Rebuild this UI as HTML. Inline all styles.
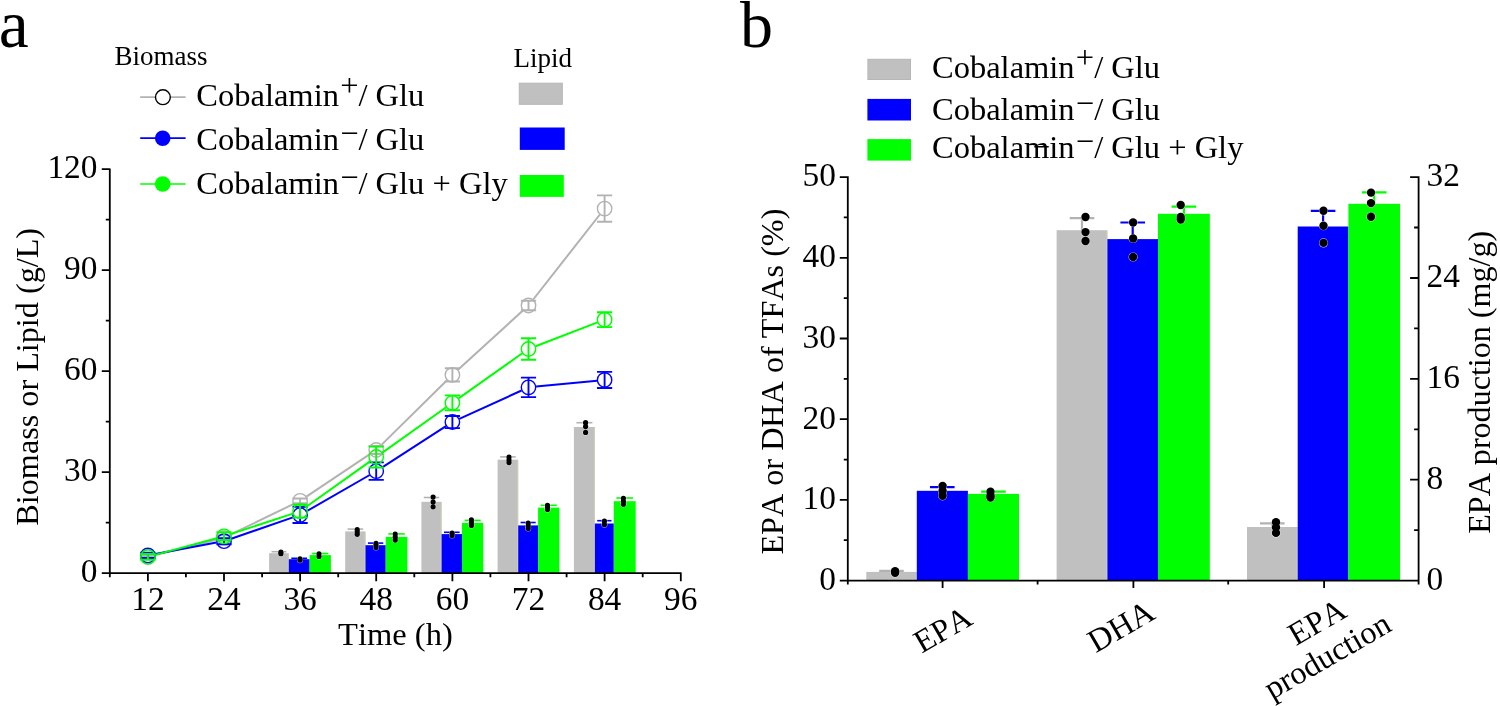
<!DOCTYPE html>
<html><head><meta charset="utf-8"><style>
html,body{margin:0;padding:0;background:#fff;}
svg{display:block;will-change:transform;}
text{font-family:"Liberation Serif", serif;fill:#000;font-kerning:none;}
</style></head><body>
<svg width="1500" height="706" viewBox="0 0 1500 706">
<rect width="1500" height="706" fill="#fff"/>
<rect x="269.1" y="553.2" width="19.7" height="20.0" fill="#c0c0c0"/>
<rect x="287.8" y="554.2" width="1" height="19.0" fill="#d0d0b4"/>
<line x1="271.5" y1="551.7" x2="286.4" y2="551.7" stroke="#b2b2b2" stroke-width="1.6"/>
<line x1="279.0" y1="551.7" x2="279.0" y2="553.2" stroke="#b2b2b2" stroke-width="1.6"/>
<circle cx="280.9" cy="552.0" r="3.0" fill="#fff" opacity="0.8"/>
<circle cx="280.9" cy="553.7" r="3.0" fill="#fff" opacity="0.8"/>
<circle cx="280.9" cy="552.0" r="2.6" fill="#000"/>
<circle cx="280.9" cy="553.7" r="2.6" fill="#000"/>
<rect x="288.8" y="559.2" width="20.8" height="14.0" fill="#0000ff"/>
<line x1="291.3" y1="558.3" x2="307.1" y2="558.3" stroke="#0000ff" stroke-width="1.6"/>
<line x1="299.2" y1="558.3" x2="299.2" y2="559.2" stroke="#0000ff" stroke-width="1.6"/>
<circle cx="300.0" cy="558.8" r="3.0" fill="#fff" opacity="0.8"/>
<circle cx="300.0" cy="560.2" r="3.0" fill="#fff" opacity="0.8"/>
<circle cx="300.0" cy="558.8" r="2.6" fill="#000"/>
<circle cx="300.0" cy="560.2" r="2.6" fill="#000"/>
<rect x="309.6" y="555.1" width="21.3" height="18.1" fill="#00ff00"/>
<line x1="312.2" y1="553.5" x2="328.3" y2="553.5" stroke="#00ff00" stroke-width="1.6"/>
<line x1="320.2" y1="553.5" x2="320.2" y2="555.1" stroke="#00ff00" stroke-width="1.6"/>
<circle cx="319.0" cy="553.8" r="3.0" fill="#fff" opacity="0.8"/>
<circle cx="319.0" cy="556.5" r="3.0" fill="#fff" opacity="0.8"/>
<circle cx="319.0" cy="553.8" r="2.6" fill="#000"/>
<circle cx="319.0" cy="556.5" r="2.6" fill="#000"/>
<rect x="345.2" y="531.4" width="20.3" height="41.8" fill="#c0c0c0"/>
<rect x="364.5" y="532.4" width="1" height="40.8" fill="#d0d0b4"/>
<line x1="347.6" y1="529.1" x2="363.1" y2="529.1" stroke="#b2b2b2" stroke-width="1.6"/>
<line x1="355.4" y1="529.1" x2="355.4" y2="531.4" stroke="#b2b2b2" stroke-width="1.6"/>
<circle cx="357.2" cy="529.5" r="3.0" fill="#fff" opacity="0.8"/>
<circle cx="357.2" cy="532.0" r="3.0" fill="#fff" opacity="0.8"/>
<circle cx="357.2" cy="534.3" r="3.0" fill="#fff" opacity="0.8"/>
<circle cx="357.2" cy="529.5" r="2.6" fill="#000"/>
<circle cx="357.2" cy="532.0" r="2.6" fill="#000"/>
<circle cx="357.2" cy="534.3" r="2.6" fill="#000"/>
<rect x="365.5" y="545.2" width="20.2" height="28.0" fill="#0000ff"/>
<line x1="367.9" y1="543.1" x2="383.3" y2="543.1" stroke="#0000ff" stroke-width="1.6"/>
<line x1="375.6" y1="543.1" x2="375.6" y2="545.2" stroke="#0000ff" stroke-width="1.6"/>
<circle cx="376.0" cy="543.3" r="3.0" fill="#fff" opacity="0.8"/>
<circle cx="376.0" cy="545.5" r="3.0" fill="#fff" opacity="0.8"/>
<circle cx="376.0" cy="547.6" r="3.0" fill="#fff" opacity="0.8"/>
<circle cx="376.0" cy="543.3" r="2.6" fill="#000"/>
<circle cx="376.0" cy="545.5" r="2.6" fill="#000"/>
<circle cx="376.0" cy="547.6" r="2.6" fill="#000"/>
<rect x="385.7" y="536.9" width="21.7" height="36.3" fill="#00ff00"/>
<line x1="388.3" y1="533.9" x2="404.8" y2="533.9" stroke="#00ff00" stroke-width="1.6"/>
<line x1="396.5" y1="533.9" x2="396.5" y2="536.9" stroke="#00ff00" stroke-width="1.6"/>
<circle cx="395.2" cy="534.1" r="3.0" fill="#fff" opacity="0.8"/>
<circle cx="395.2" cy="537.2" r="3.0" fill="#fff" opacity="0.8"/>
<circle cx="395.2" cy="540.1" r="3.0" fill="#fff" opacity="0.8"/>
<circle cx="395.2" cy="534.1" r="2.6" fill="#000"/>
<circle cx="395.2" cy="537.2" r="2.6" fill="#000"/>
<circle cx="395.2" cy="540.1" r="2.6" fill="#000"/>
<rect x="421.4" y="501.8" width="20.2" height="71.4" fill="#c0c0c0"/>
<rect x="440.6" y="502.8" width="1" height="70.4" fill="#d0d0b4"/>
<line x1="423.8" y1="497.5" x2="439.2" y2="497.5" stroke="#b2b2b2" stroke-width="1.6"/>
<line x1="431.5" y1="497.5" x2="431.5" y2="501.8" stroke="#b2b2b2" stroke-width="1.6"/>
<circle cx="433.1" cy="497.1" r="3.0" fill="#fff" opacity="0.8"/>
<circle cx="433.1" cy="502.1" r="3.0" fill="#fff" opacity="0.8"/>
<circle cx="433.1" cy="506.8" r="3.0" fill="#fff" opacity="0.8"/>
<circle cx="433.1" cy="497.1" r="2.6" fill="#000"/>
<circle cx="433.1" cy="502.1" r="2.6" fill="#000"/>
<circle cx="433.1" cy="506.8" r="2.6" fill="#000"/>
<rect x="441.6" y="534.1" width="20.4" height="39.1" fill="#0000ff"/>
<line x1="444.0" y1="532.3" x2="459.6" y2="532.3" stroke="#0000ff" stroke-width="1.6"/>
<line x1="451.8" y1="532.3" x2="451.8" y2="534.1" stroke="#0000ff" stroke-width="1.6"/>
<circle cx="452.1" cy="533.2" r="3.0" fill="#fff" opacity="0.8"/>
<circle cx="452.1" cy="535.6" r="3.0" fill="#fff" opacity="0.8"/>
<circle cx="452.1" cy="533.2" r="2.6" fill="#000"/>
<circle cx="452.1" cy="535.6" r="2.6" fill="#000"/>
<rect x="462.0" y="522.9" width="21.3" height="50.3" fill="#00ff00"/>
<line x1="464.6" y1="520.4" x2="480.7" y2="520.4" stroke="#00ff00" stroke-width="1.6"/>
<line x1="472.6" y1="520.4" x2="472.6" y2="522.9" stroke="#00ff00" stroke-width="1.6"/>
<circle cx="471.4" cy="519.8" r="3.0" fill="#fff" opacity="0.8"/>
<circle cx="471.4" cy="522.5" r="3.0" fill="#fff" opacity="0.8"/>
<circle cx="471.4" cy="525.4" r="3.0" fill="#fff" opacity="0.8"/>
<circle cx="471.4" cy="519.8" r="2.6" fill="#000"/>
<circle cx="471.4" cy="522.5" r="2.6" fill="#000"/>
<circle cx="471.4" cy="525.4" r="2.6" fill="#000"/>
<rect x="497.6" y="459.7" width="20.6" height="113.5" fill="#c0c0c0"/>
<rect x="517.2" y="460.7" width="1" height="112.5" fill="#d0d0b4"/>
<line x1="500.1" y1="456.9" x2="515.7" y2="456.9" stroke="#b2b2b2" stroke-width="1.6"/>
<line x1="507.9" y1="456.9" x2="507.9" y2="459.7" stroke="#b2b2b2" stroke-width="1.6"/>
<circle cx="509.0" cy="457.1" r="3.0" fill="#fff" opacity="0.8"/>
<circle cx="509.0" cy="460.0" r="3.0" fill="#fff" opacity="0.8"/>
<circle cx="509.0" cy="462.6" r="3.0" fill="#fff" opacity="0.8"/>
<circle cx="509.0" cy="457.1" r="2.6" fill="#000"/>
<circle cx="509.0" cy="460.0" r="2.6" fill="#000"/>
<circle cx="509.0" cy="462.6" r="2.6" fill="#000"/>
<rect x="518.2" y="525.4" width="19.9" height="47.8" fill="#0000ff"/>
<line x1="520.6" y1="522.5" x2="535.7" y2="522.5" stroke="#0000ff" stroke-width="1.6"/>
<line x1="528.2" y1="522.5" x2="528.2" y2="525.4" stroke="#0000ff" stroke-width="1.6"/>
<circle cx="528.2" cy="523.1" r="3.0" fill="#fff" opacity="0.8"/>
<circle cx="528.2" cy="526.0" r="3.0" fill="#fff" opacity="0.8"/>
<circle cx="528.2" cy="528.6" r="3.0" fill="#fff" opacity="0.8"/>
<circle cx="528.2" cy="523.1" r="2.6" fill="#000"/>
<circle cx="528.2" cy="526.0" r="2.6" fill="#000"/>
<circle cx="528.2" cy="528.6" r="2.6" fill="#000"/>
<rect x="538.1" y="507.6" width="21.3" height="65.6" fill="#00ff00"/>
<line x1="540.7" y1="505.3" x2="556.8" y2="505.3" stroke="#00ff00" stroke-width="1.6"/>
<line x1="548.8" y1="505.3" x2="548.8" y2="507.6" stroke="#00ff00" stroke-width="1.6"/>
<circle cx="547.5" cy="505.3" r="3.0" fill="#fff" opacity="0.8"/>
<circle cx="547.5" cy="507.5" r="3.0" fill="#fff" opacity="0.8"/>
<circle cx="547.5" cy="509.5" r="3.0" fill="#fff" opacity="0.8"/>
<circle cx="547.5" cy="505.3" r="2.6" fill="#000"/>
<circle cx="547.5" cy="507.5" r="2.6" fill="#000"/>
<circle cx="547.5" cy="509.5" r="2.6" fill="#000"/>
<rect x="573.9" y="427.0" width="21.0" height="146.2" fill="#c0c0c0"/>
<rect x="593.9" y="428.0" width="1" height="145.2" fill="#d0d0b4"/>
<line x1="576.4" y1="422.7" x2="592.4" y2="422.7" stroke="#b2b2b2" stroke-width="1.6"/>
<line x1="584.4" y1="422.7" x2="584.4" y2="427.0" stroke="#b2b2b2" stroke-width="1.6"/>
<circle cx="585.6" cy="422.7" r="3.0" fill="#fff" opacity="0.8"/>
<circle cx="585.6" cy="426.6" r="3.0" fill="#fff" opacity="0.8"/>
<circle cx="585.6" cy="432.4" r="3.0" fill="#fff" opacity="0.8"/>
<circle cx="585.6" cy="422.7" r="2.6" fill="#000"/>
<circle cx="585.6" cy="426.6" r="2.6" fill="#000"/>
<circle cx="585.6" cy="432.4" r="2.6" fill="#000"/>
<rect x="594.9" y="523.5" width="18.9" height="49.7" fill="#0000ff"/>
<line x1="597.2" y1="520.7" x2="611.5" y2="520.7" stroke="#0000ff" stroke-width="1.6"/>
<line x1="604.3" y1="520.7" x2="604.3" y2="523.5" stroke="#0000ff" stroke-width="1.6"/>
<circle cx="604.4" cy="521.2" r="3.0" fill="#fff" opacity="0.8"/>
<circle cx="604.4" cy="524.7" r="3.0" fill="#fff" opacity="0.8"/>
<circle cx="604.4" cy="521.2" r="2.6" fill="#000"/>
<circle cx="604.4" cy="524.7" r="2.6" fill="#000"/>
<rect x="613.8" y="501.2" width="21.9" height="72.0" fill="#00ff00"/>
<line x1="616.4" y1="498.0" x2="633.1" y2="498.0" stroke="#00ff00" stroke-width="1.6"/>
<line x1="624.8" y1="498.0" x2="624.8" y2="501.2" stroke="#00ff00" stroke-width="1.6"/>
<circle cx="623.4" cy="498.3" r="3.0" fill="#fff" opacity="0.8"/>
<circle cx="623.4" cy="501.5" r="3.0" fill="#fff" opacity="0.8"/>
<circle cx="623.4" cy="504.3" r="3.0" fill="#fff" opacity="0.8"/>
<circle cx="623.4" cy="498.3" r="2.6" fill="#000"/>
<circle cx="623.4" cy="501.5" r="2.6" fill="#000"/>
<circle cx="623.4" cy="504.3" r="2.6" fill="#000"/>
<path d="M155.2 555.0L216.6 539.7M230.8 534.5L293.3 504.1M306.4 496.6L369.9 454.2M381.7 444.6L447.0 380.2M458.0 369.8L522.9 310.6M533.2 299.5L599.9 214.5" fill="none" stroke="#b2b2b2" stroke-width="2"/>
<circle cx="147.9" cy="556.8" r="7.2" fill="none" stroke="#b2b2b2" stroke-width="1.4"/>
<path d="M140.3 556.0H155.5M147.9 556.0V557.6M140.3 557.6H155.5" stroke="#b2b2b2" stroke-width="1.9" fill="none"/>
<circle cx="224.0" cy="537.8" r="7.2" fill="none" stroke="#b2b2b2" stroke-width="1.4"/>
<path d="M216.4 535.2H231.6M224.0 535.2V540.5M216.4 540.5H231.6" stroke="#b2b2b2" stroke-width="1.9" fill="none"/>
<circle cx="300.1" cy="500.8" r="7.2" fill="none" stroke="#b2b2b2" stroke-width="1.4"/>
<path d="M292.5 498.5H307.7M300.1 498.5V503.2M292.5 503.2H307.7" stroke="#b2b2b2" stroke-width="1.9" fill="none"/>
<circle cx="376.2" cy="450.0" r="7.2" fill="none" stroke="#b2b2b2" stroke-width="1.4"/>
<path d="M368.6 445.9H383.8M376.2 445.9V454.0M368.6 454.0H383.8" stroke="#b2b2b2" stroke-width="1.9" fill="none"/>
<circle cx="452.4" cy="374.9" r="7.2" fill="none" stroke="#b2b2b2" stroke-width="1.4"/>
<path d="M444.8 368.3H460.0M452.4 368.3V381.5M444.8 381.5H460.0" stroke="#b2b2b2" stroke-width="1.9" fill="none"/>
<circle cx="528.5" cy="305.5" r="7.2" fill="none" stroke="#b2b2b2" stroke-width="1.4"/>
<path d="M520.9 300.8H536.1M528.5 300.8V310.2M520.9 310.2H536.1" stroke="#b2b2b2" stroke-width="1.9" fill="none"/>
<circle cx="604.6" cy="208.6" r="7.2" fill="none" stroke="#b2b2b2" stroke-width="1.4"/>
<path d="M597.0 195.4H612.2M604.6 195.4V221.7M597.0 221.7H612.2" stroke="#b2b2b2" stroke-width="1.9" fill="none"/>
<path d="M155.3 554.0L216.5 542.6M231.2 538.7L292.9 517.4M306.7 511.2L369.7 475.0M382.6 467.1L446.0 426.1M459.3 418.9L521.6 390.5M536.1 386.6L597.1 380.7" fill="none" stroke="#0000ff" stroke-width="2"/>
<circle cx="147.9" cy="555.4" r="7.2" fill="none" stroke="#0000ff" stroke-width="1.4"/>
<path d="M140.3 552.7H155.5M147.9 552.7V558.0M140.3 558.0H155.5" stroke="#0000ff" stroke-width="1.9" fill="none"/>
<circle cx="224.0" cy="541.2" r="7.2" fill="none" stroke="#0000ff" stroke-width="1.4"/>
<path d="M216.4 538.2H231.6M224.0 538.2V544.2M216.4 544.2H231.6" stroke="#0000ff" stroke-width="1.9" fill="none"/>
<circle cx="300.1" cy="515.0" r="7.2" fill="none" stroke="#0000ff" stroke-width="1.4"/>
<path d="M292.5 506.9H307.7M300.1 506.9V523.0M292.5 523.0H307.7" stroke="#0000ff" stroke-width="1.9" fill="none"/>
<circle cx="376.2" cy="471.2" r="7.2" fill="none" stroke="#0000ff" stroke-width="1.4"/>
<path d="M368.6 462.4H383.8M376.2 462.4V479.9M368.6 479.9H383.8" stroke="#0000ff" stroke-width="1.9" fill="none"/>
<circle cx="452.4" cy="422.0" r="7.2" fill="none" stroke="#0000ff" stroke-width="1.4"/>
<path d="M444.8 416.0H460.0M452.4 416.0V428.1M444.8 428.1H460.0" stroke="#0000ff" stroke-width="1.9" fill="none"/>
<circle cx="528.5" cy="387.3" r="7.2" fill="none" stroke="#0000ff" stroke-width="1.4"/>
<path d="M520.9 377.6H536.1M528.5 377.6V397.1M520.9 397.1H536.1" stroke="#0000ff" stroke-width="1.9" fill="none"/>
<circle cx="604.6" cy="379.9" r="7.2" fill="none" stroke="#0000ff" stroke-width="1.4"/>
<path d="M597.0 371.9H612.2M604.6 371.9V388.0M597.0 388.0H612.2" stroke="#0000ff" stroke-width="1.9" fill="none"/>
<path d="M155.2 554.9L216.7 538.3M231.2 533.9L292.9 513.6M306.3 506.8L370.1 461.4M382.4 452.6L446.2 407.2M458.6 398.4L522.3 353.3M535.6 346.2L597.5 322.4" fill="none" stroke="#00ff00" stroke-width="2"/>
<circle cx="147.9" cy="556.9" r="7.2" fill="none" stroke="#00ff00" stroke-width="1.4"/>
<path d="M140.3 554.0H155.5M147.9 554.0V559.8M140.3 559.8H155.5" stroke="#00ff00" stroke-width="1.9" fill="none"/>
<circle cx="224.0" cy="536.3" r="7.2" fill="none" stroke="#00ff00" stroke-width="1.4"/>
<path d="M216.4 532.3H231.6M224.0 532.3V540.3M216.4 540.3H231.6" stroke="#00ff00" stroke-width="1.9" fill="none"/>
<circle cx="300.1" cy="511.2" r="7.2" fill="none" stroke="#00ff00" stroke-width="1.4"/>
<path d="M292.5 504.8H307.7M300.1 504.8V517.6M292.5 517.6H307.7" stroke="#00ff00" stroke-width="1.9" fill="none"/>
<circle cx="376.2" cy="457.0" r="7.2" fill="none" stroke="#00ff00" stroke-width="1.4"/>
<path d="M368.6 446.6H383.8M376.2 446.6V467.5M368.6 467.5H383.8" stroke="#00ff00" stroke-width="1.9" fill="none"/>
<circle cx="452.4" cy="402.8" r="7.2" fill="none" stroke="#00ff00" stroke-width="1.4"/>
<path d="M444.8 395.4H460.0M452.4 395.4V410.2M444.8 410.2H460.0" stroke="#00ff00" stroke-width="1.9" fill="none"/>
<circle cx="528.5" cy="349.0" r="7.2" fill="none" stroke="#00ff00" stroke-width="1.4"/>
<path d="M520.9 338.2H536.1M528.5 338.2V359.7M520.9 359.7H536.1" stroke="#00ff00" stroke-width="1.9" fill="none"/>
<circle cx="604.6" cy="319.7" r="7.2" fill="none" stroke="#00ff00" stroke-width="1.4"/>
<path d="M597.0 312.3H612.2M604.6 312.3V327.1M597.0 327.1H612.2" stroke="#00ff00" stroke-width="1.9" fill="none"/>
<path d="M109.8 168.4V577.2M101.8 573.2H681.6M101.8 472.2H109.8M101.8 371.2H109.8M101.8 270.2H109.8M101.8 169.2H109.8M105.8 522.7H109.8M105.8 421.7H109.8M105.8 320.7H109.8M105.8 219.7H109.8M147.9 573.2V581.2M224.0 573.2V581.2M300.1 573.2V581.2M376.2 573.2V581.2M452.4 573.2V581.2M528.5 573.2V581.2M604.6 573.2V581.2M680.8 573.2V581.2M185.9 573.2V577.2M262.1 573.2V577.2M338.2 573.2V577.2M414.3 573.2V577.2M490.4 573.2V577.2M566.6 573.2V577.2M642.7 573.2V577.2" stroke="#000" stroke-width="1.8" fill="none"/>
<text x="97.5" y="582.1" font-size="33.4" text-anchor="end">0</text>
<text x="97.5" y="481.1" font-size="33.4" text-anchor="end">30</text>
<text x="97.5" y="380.1" font-size="33.4" text-anchor="end">60</text>
<text x="97.5" y="279.1" font-size="33.4" text-anchor="end">90</text>
<text x="97.5" y="178.1" font-size="33.4" text-anchor="end">120</text>
<text x="147.9" y="610.4" font-size="33.4" text-anchor="middle">12</text>
<text x="224.0" y="610.4" font-size="33.4" text-anchor="middle">24</text>
<text x="300.1" y="610.4" font-size="33.4" text-anchor="middle">36</text>
<text x="376.2" y="610.4" font-size="33.4" text-anchor="middle">48</text>
<text x="452.4" y="610.4" font-size="33.4" text-anchor="middle">60</text>
<text x="528.5" y="610.4" font-size="33.4" text-anchor="middle">72</text>
<text x="604.6" y="610.4" font-size="33.4" text-anchor="middle">84</text>
<text x="680.8" y="610.4" font-size="33.4" text-anchor="middle">96</text>
<text x="395.4" y="645.2" font-size="32.5" text-anchor="middle">Time (h)</text>
<text transform="translate(37.8 376.8) rotate(-90)" font-size="32.2" text-anchor="middle">Biomass or Lipid (g/L)</text>
<text x="114.5" y="65" font-size="27">Biomass</text>
<text x="513.6" y="67" font-size="27">Lipid</text>
<line x1="140.2" y1="97.2" x2="185.6" y2="97.2" stroke="#b2b2b2" stroke-width="1.7"/>
<circle cx="162.9" cy="97.2" r="7.4" fill="#fff" stroke="#000" stroke-width="1.4"/>
<text x="196.3" y="105.9" font-size="32.5">Cobalamin<tspan dx="1.2" dy="-10.3">+</tspan><tspan dy="10.3">/ Glu</tspan></text>
<line x1="140.2" y1="138.2" x2="185.6" y2="138.2" stroke="#0000ff" stroke-width="1.7"/>
<circle cx="162.7" cy="138.2" r="7.8" fill="#0000ff"/>
<text x="196.3" y="150.1" font-size="32.5">Cobalamin<tspan dx="1.2" dy="-6.3">&#8722;</tspan><tspan dy="6.3">/ Glu</tspan></text>
<line x1="140.2" y1="184.0" x2="185.6" y2="184.0" stroke="#00ff00" stroke-width="1.7"/>
<circle cx="162.7" cy="184.0" r="7.8" fill="#00ff00"/>
<text x="196.3" y="194.3" font-size="32.5">Cobalamin<tspan dx="1.2" dy="-6.3">&#8722;</tspan><tspan dy="6.3">/ Glu + Gly</tspan></text>
<rect x="519.3" y="83.2" width="43" height="21.1" fill="#c0c0c0" stroke="#b6b6b6" stroke-width="1"/>
<rect x="519.8" y="127.5" width="44.9" height="22.4" fill="#0000ff"/>
<rect x="519.8" y="175" width="44" height="21.9" fill="#00ff00"/>
<path d="M298.8 179.9H312.5M1034.3 146.8H1048.7" stroke="#000" stroke-width="1.4"/>
<text x="-1.3" y="46.9" font-size="67.5">a</text>
<rect x="866.3" y="571.9" width="50.5" height="8.7" fill="#c0c0c0"/>
<rect x="915.8" y="572.9" width="1" height="7.7" fill="#d0d0b4"/>
<path d="M879.2 570.9H903.8M891.5 570.9V571.9" stroke="#b2b2b2" stroke-width="2.2" fill="none"/>
<circle cx="895.1" cy="571.2" r="4.6" fill="#fff" opacity="0.8"/>
<circle cx="895.1" cy="572.8" r="4.6" fill="#fff" opacity="0.8"/>
<circle cx="895.1" cy="571.2" r="4.2" fill="#000"/>
<circle cx="895.1" cy="572.8" r="4.2" fill="#000"/>
<rect x="916.8" y="490.8" width="51.1" height="89.8" fill="#0000ff"/>
<path d="M930.0 487.1H954.6M942.3 487.1V490.8" stroke="#0000ff" stroke-width="2.2" fill="none"/>
<circle cx="942.6" cy="486.0" r="4.6" fill="#fff" opacity="0.8"/>
<circle cx="942.6" cy="491.0" r="4.6" fill="#fff" opacity="0.8"/>
<circle cx="942.6" cy="495.8" r="4.6" fill="#fff" opacity="0.8"/>
<circle cx="942.6" cy="486.0" r="4.2" fill="#000"/>
<circle cx="942.6" cy="491.0" r="4.2" fill="#000"/>
<circle cx="942.6" cy="495.8" r="4.2" fill="#000"/>
<rect x="967.9" y="493.9" width="51.1" height="86.7" fill="#00ff00"/>
<path d="M981.2 491.7H1005.8M993.5 491.7V493.9" stroke="#00ff00" stroke-width="2.2" fill="none"/>
<circle cx="990.5" cy="491.7" r="4.6" fill="#fff" opacity="0.8"/>
<circle cx="990.5" cy="495.5" r="4.6" fill="#fff" opacity="0.8"/>
<circle cx="990.5" cy="497.6" r="4.6" fill="#fff" opacity="0.8"/>
<circle cx="990.5" cy="491.7" r="4.2" fill="#000"/>
<circle cx="990.5" cy="495.5" r="4.2" fill="#000"/>
<circle cx="990.5" cy="497.6" r="4.2" fill="#000"/>
<rect x="1056.6" y="230.2" width="50.8" height="350.4" fill="#c0c0c0"/>
<rect x="1106.4" y="231.2" width="1" height="349.4" fill="#d0d0b4"/>
<path d="M1069.7 218.1H1094.3M1082.0 218.1V230.2" stroke="#b2b2b2" stroke-width="2.2" fill="none"/>
<circle cx="1085.5" cy="217.0" r="4.6" fill="#fff" opacity="0.8"/>
<circle cx="1085.5" cy="232.1" r="4.6" fill="#fff" opacity="0.8"/>
<circle cx="1085.5" cy="241.0" r="4.6" fill="#fff" opacity="0.8"/>
<circle cx="1085.5" cy="217.0" r="4.2" fill="#000"/>
<circle cx="1085.5" cy="232.1" r="4.2" fill="#000"/>
<circle cx="1085.5" cy="241.0" r="4.2" fill="#000"/>
<rect x="1107.4" y="239.1" width="50.6" height="341.5" fill="#0000ff"/>
<path d="M1120.4 222.5H1145.0M1132.7 222.5V239.1" stroke="#0000ff" stroke-width="2.2" fill="none"/>
<circle cx="1133.1" cy="222.5" r="4.6" fill="#fff" opacity="0.8"/>
<circle cx="1133.1" cy="238.5" r="4.6" fill="#fff" opacity="0.8"/>
<circle cx="1133.1" cy="257.0" r="4.6" fill="#fff" opacity="0.8"/>
<circle cx="1133.1" cy="222.5" r="4.2" fill="#000"/>
<circle cx="1133.1" cy="238.5" r="4.2" fill="#000"/>
<circle cx="1133.1" cy="257.0" r="4.2" fill="#000"/>
<rect x="1158.0" y="213.8" width="51.8" height="366.8" fill="#00ff00"/>
<path d="M1171.6 206.6H1196.2M1183.9 206.6V213.8" stroke="#00ff00" stroke-width="2.2" fill="none"/>
<circle cx="1180.7" cy="205.0" r="4.6" fill="#fff" opacity="0.8"/>
<circle cx="1180.7" cy="217.0" r="4.6" fill="#fff" opacity="0.8"/>
<circle cx="1180.7" cy="219.6" r="4.6" fill="#fff" opacity="0.8"/>
<circle cx="1180.7" cy="205.0" r="4.2" fill="#000"/>
<circle cx="1180.7" cy="217.0" r="4.2" fill="#000"/>
<circle cx="1180.7" cy="219.6" r="4.2" fill="#000"/>
<rect x="1247.0" y="527.0" width="50.7" height="53.6" fill="#c0c0c0"/>
<rect x="1296.7" y="528.0" width="1" height="52.6" fill="#d0d0b4"/>
<path d="M1260.0 523.3H1284.6M1272.3 523.3V527.0" stroke="#b2b2b2" stroke-width="2.2" fill="none"/>
<circle cx="1276.0" cy="522.3" r="4.6" fill="#fff" opacity="0.8"/>
<circle cx="1276.0" cy="527.4" r="4.6" fill="#fff" opacity="0.8"/>
<circle cx="1276.0" cy="532.9" r="4.6" fill="#fff" opacity="0.8"/>
<circle cx="1276.0" cy="522.3" r="4.2" fill="#000"/>
<circle cx="1276.0" cy="527.4" r="4.2" fill="#000"/>
<circle cx="1276.0" cy="532.9" r="4.2" fill="#000"/>
<rect x="1297.7" y="226.5" width="50.7" height="354.1" fill="#0000ff"/>
<path d="M1310.8 210.8H1335.4M1323.1 210.8V226.5" stroke="#0000ff" stroke-width="2.2" fill="none"/>
<circle cx="1323.5" cy="210.8" r="4.6" fill="#fff" opacity="0.8"/>
<circle cx="1323.5" cy="225.7" r="4.6" fill="#fff" opacity="0.8"/>
<circle cx="1323.5" cy="242.9" r="4.6" fill="#fff" opacity="0.8"/>
<circle cx="1323.5" cy="210.8" r="4.2" fill="#000"/>
<circle cx="1323.5" cy="225.7" r="4.2" fill="#000"/>
<circle cx="1323.5" cy="242.9" r="4.2" fill="#000"/>
<rect x="1348.4" y="203.8" width="51.6" height="376.8" fill="#00ff00"/>
<path d="M1361.9 192.3H1386.5M1374.2 192.3V203.8" stroke="#00ff00" stroke-width="2.2" fill="none"/>
<circle cx="1371.0" cy="192.6" r="4.6" fill="#fff" opacity="0.8"/>
<circle cx="1371.0" cy="203.1" r="4.6" fill="#fff" opacity="0.8"/>
<circle cx="1371.0" cy="216.8" r="4.6" fill="#fff" opacity="0.8"/>
<circle cx="1371.0" cy="192.6" r="4.2" fill="#000"/>
<circle cx="1371.0" cy="203.1" r="4.2" fill="#000"/>
<circle cx="1371.0" cy="216.8" r="4.2" fill="#000"/>
<path d="M847.8 176.3V584.6M1418.6 176.3V584.6M839.8 580.6H1419.4M839.8 499.9H847.8M839.8 419.2H847.8M839.8 338.5H847.8M839.8 257.8H847.8M839.8 177.1H847.8M843.8 540.2H847.8M843.8 459.6H847.8M843.8 378.9H847.8M843.8 298.2H847.8M843.8 217.4H847.8M1410.1 479.7H1418.6M1410.1 378.8H1418.6M1410.1 278.0H1418.6M1410.1 177.1H1418.6M1414.1 530.2H1418.6M1414.1 429.3H1418.6M1414.1 328.4H1418.6M1414.1 227.5H1418.6M942.6 580.6V588.1M1133.4 580.6V588.1M1324.1 580.6V588.1M1037.6 580.6V584.6M1228.2 580.6V584.6" stroke="#000" stroke-width="1.8" fill="none"/>
<text x="836" y="589.9" font-size="33.4" text-anchor="end">0</text>
<text x="836" y="509.2" font-size="33.4" text-anchor="end">10</text>
<text x="836" y="428.5" font-size="33.4" text-anchor="end">20</text>
<text x="836" y="347.8" font-size="33.4" text-anchor="end">30</text>
<text x="836" y="267.1" font-size="33.4" text-anchor="end">40</text>
<text x="836" y="186.4" font-size="33.4" text-anchor="end">50</text>
<text x="1426.5" y="589.5" font-size="33.4">0</text>
<text x="1426.5" y="488.6" font-size="33.4">8</text>
<text x="1426.5" y="387.7" font-size="33.4">16</text>
<text x="1426.5" y="286.9" font-size="33.4">24</text>
<text x="1426.5" y="186.0" font-size="33.4">32</text>
<text transform="translate(783 381.6) rotate(-90)" font-size="32.2" text-anchor="middle">EPA or DHA of TFAs (%)</text>
<text transform="translate(1490.3 382.3) rotate(-90)" font-size="32.1" text-anchor="middle">EPA production (mg/g)</text>
<text transform="translate(948 638.6) rotate(-30)" font-size="32.2" text-anchor="middle">EPA</text>
<text transform="translate(1126.4 635.6) rotate(-30)" font-size="32.6" text-anchor="middle">DHA</text>
<text transform="translate(1322.4 631) rotate(-30)" font-size="32.2" text-anchor="middle">EPA</text>
<text transform="translate(1332.6 665) rotate(-30)" font-size="32.3" text-anchor="middle">production</text>
<rect x="867.9" y="59.3" width="42.6" height="20.2" fill="#c0c0c0" stroke="#b6b6b6" stroke-width="1"/>
<rect x="867.4" y="98.9" width="43.6" height="21.6" fill="#0000ff"/>
<rect x="867.4" y="139.1" width="43.6" height="21.5" fill="#00ff00"/>
<text x="932" y="78.3" font-size="32.5">Cobalamin<tspan dx="1.2" dy="-10.3">+</tspan><tspan dy="10.3">/ Glu</tspan></text>
<text x="932" y="120.1" font-size="32.5">Cobalamin<tspan dx="1.2" dy="-6.3">&#8722;</tspan><tspan dy="6.3">/ Glu</tspan></text>
<text x="932" y="157.9" font-size="32.5">Cobalamin<tspan dx="1.2" dy="-6.3">&#8722;</tspan><tspan dy="6.3">/ Glu + Gly</tspan></text>
<text x="740" y="46.7" font-size="66">b</text>
</svg>
</body></html>
